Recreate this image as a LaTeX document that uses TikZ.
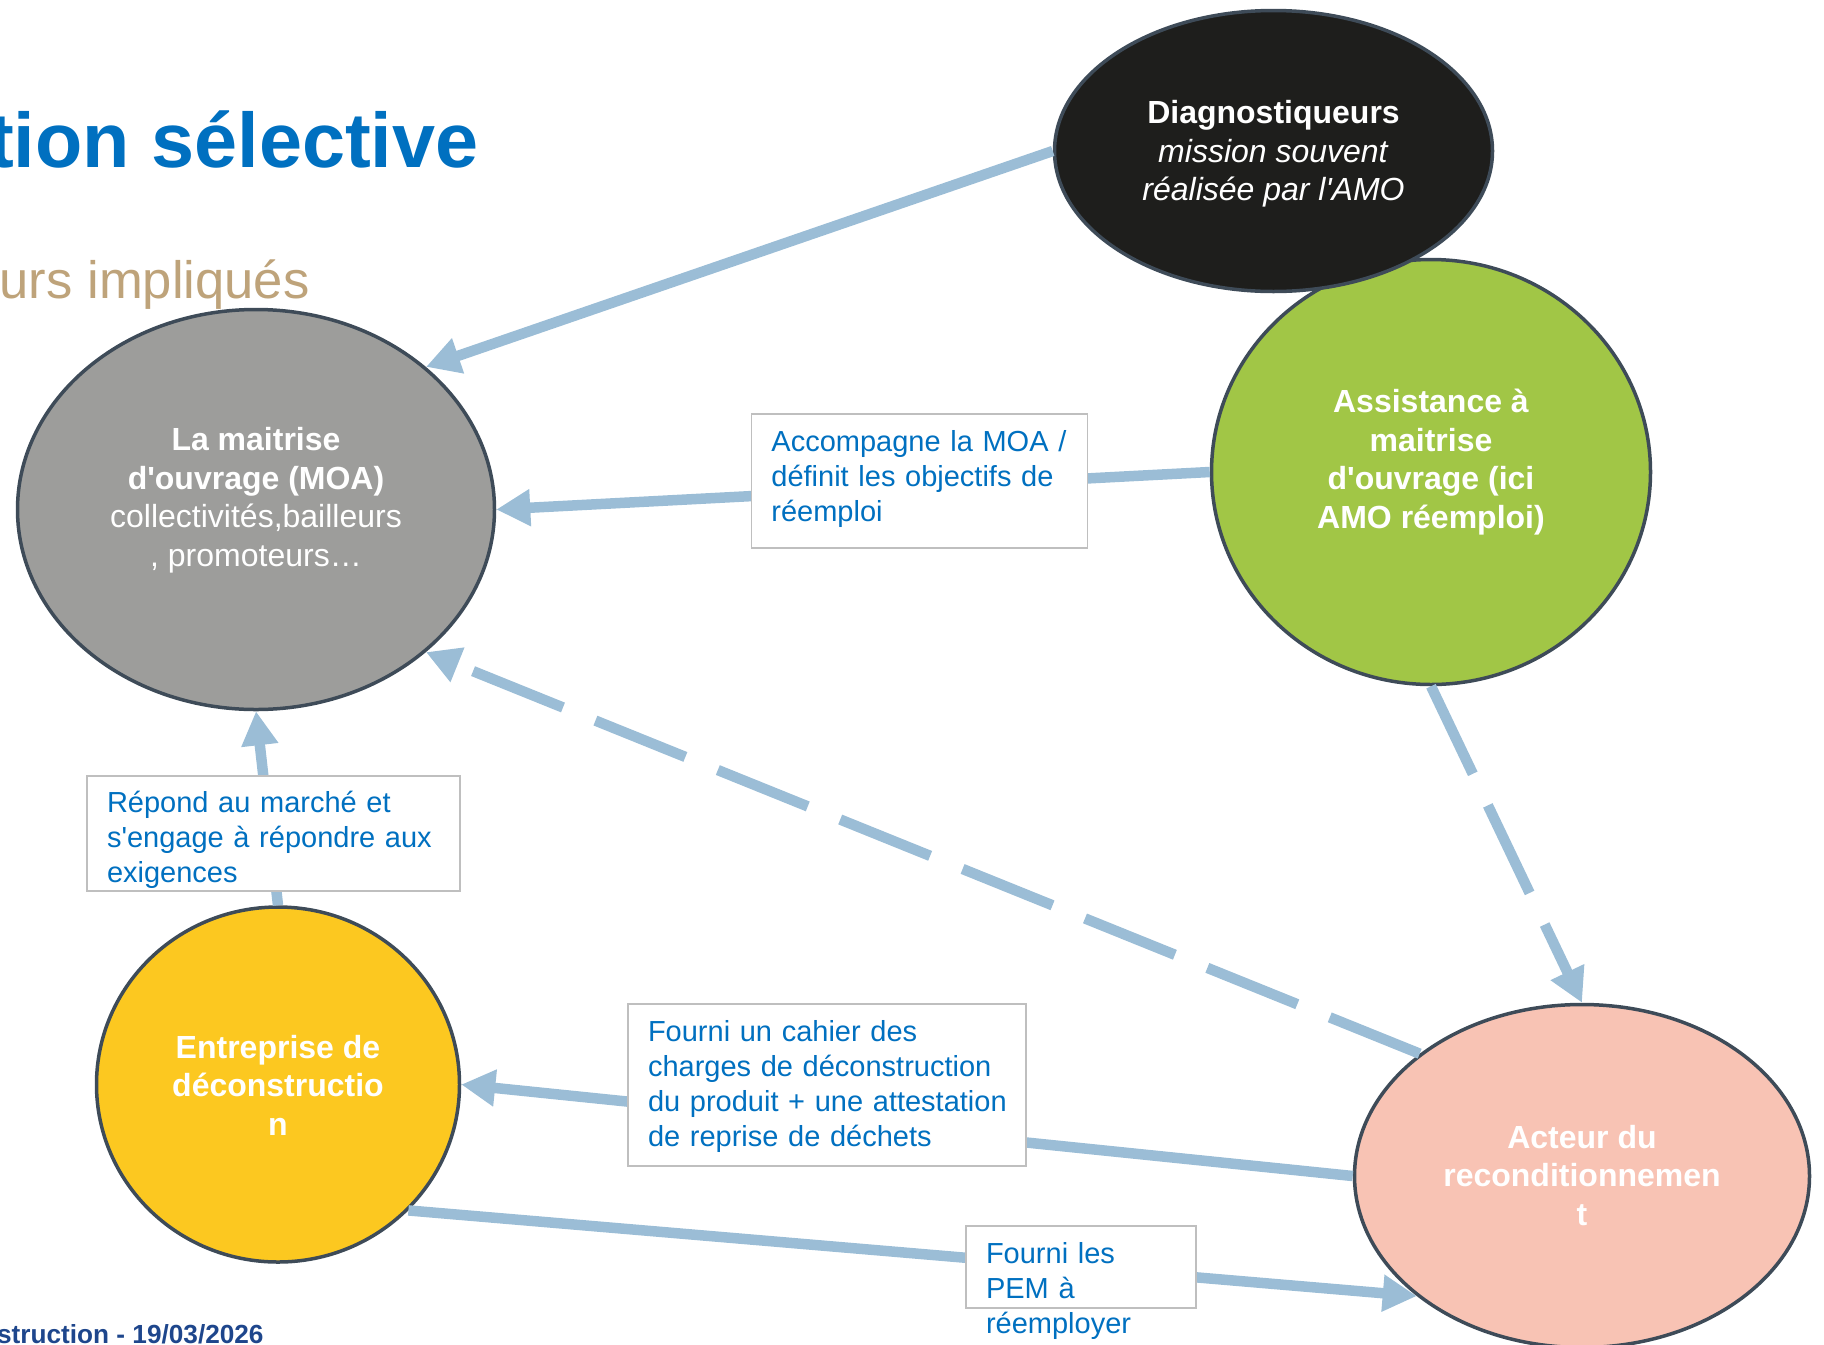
\documentclass[tikz,border=0pt]{standalone}
\usepackage{fontspec}
\setmainfont{Liberation Sans}[Ligatures=TeXOff]
\usetikzlibrary{shapes.geometric,arrows.meta}
\definecolor{flowblue}{RGB}{155,189,214}
\definecolor{rimgrey}{RGB}{62,75,88}
\definecolor{boxgrey}{RGB}{191,191,191}
\definecolor{noteblue}{RGB}{0,112,192}
\definecolor{subtan}{RGB}{190,163,122}
\definecolor{footnavy}{RGB}{30,70,140}
\definecolor{moagrey}{RGB}{157,157,155}
\definecolor{diagblack}{RGB}{30,30,28}
\definecolor{amogreen}{RGB}{161,198,70}
\definecolor{entyellow}{RGB}{252,200,32}
\definecolor{actsalmon}{RGB}{248,195,180}
\begin{document}
\begin{tikzpicture}[x=0.5pt,y=-0.5pt,
    actor/.style={ellipse, draw=rimgrey, line width=1.75pt, inner sep=0pt, text=white, align=center,
        font=\fontsize{16}{19.25}\selectfont, text depth=4pt},
    flow/.style={draw=flowblue, line width=5.25pt, -{Triangle[length=17pt,width=17.5pt]}},
    longdash/.style={dash pattern=on 48.5pt off 17.5pt},
    note/.style={draw=boxgrey, line width=0.7pt, fill=white, text=noteblue, align=left, anchor=north west,
        outer sep=0pt, inner xsep=10pt, inner ysep=0pt, font=\fontsize{14.5}{17.5}\selectfont},
    heading/.style={anchor=base east, inner sep=0pt}]

    \useasboundingbox (0,0) rectangle (1824,1344);

    % titles
    \node[heading, text=noteblue, font=\fontsize{38.7}{46}\selectfont\bfseries] (title) at (479,167) {tion sélective};
    \node[heading, text=subtan, font=\fontsize{26.3}{31}\selectfont] (subtitle) at (310,298) {urs impliqués};
    \node[heading, text=footnavy, font=\fontsize{13.1}{15}\selectfont\bfseries] (footer) at (264,1343) {struction - 19/03/2026};

    % actors
    \node[actor, fill=amogreen, minimum width=219.5pt, minimum height=212.5pt, text height=60pt] (amo) at (1431,472)
        {\textbf{Assistance à}\\\textbf{maitrise}\\\textbf{d'ouvrage (ici}\\\textbf{AMO réemploi)}};
    \node[actor, fill=diagblack, minimum width=219pt, minimum height=140.5pt, text height=53.6pt] (diag) at (1273.5,151)
        {\textbf{Diagnostiqueurs}\\\textit{mission souvent}\\\textit{réalisée par l'AMO}};
    \node[actor, fill=moagrey, minimum width=238.5pt, minimum height=200pt, text height=60.5pt] (moa) at (256,509.5)
        {\textbf{La maitrise}\\\textbf{d'ouvrage (MOA)}\\collectivités,bailleurs\\, promoteurs…};
    \node[actor, fill=entyellow, minimum width=181.5pt, minimum height=177.5pt, text height=54.5pt] (ent) at (278,1084.5)
        {\textbf{Entreprise de}\\\textbf{déconstructio}\\\textbf{n}};
    \node[actor, fill=actsalmon, minimum width=227.5pt, minimum height=171.5pt, text height=53pt] (act) at (1582,1176)
        {\textbf{Acteur du}\\\textbf{reconditionnemen}\\\textbf{t}};

    % links
    \draw[flow] (diag.west) -- (moa.40);
    \draw[flow] (amo.west) -- (moa.east);
    \draw[flow] (ent.north) -- (moa.south);
    \draw[flow] (act.west) -- (ent.east);
    \draw[flow] (ent.-44) -- (act.216);
    \draw[flow, longdash] (amo.south) -- (act.north);
    \draw[flow, longdash] (act.143) -- (moa.320);

    % link labels
    \node[note, text width=148pt, text height=18.85pt, text depth=48.15pt] (acc) at (751.4,414)
        {Accompagne la MOA /\\définit les objectifs de\\réemploi};
    \node[note, text width=166.5pt, text height=18.3pt, text depth=39.2pt] (rep) at (87,776)
        {Répond au marché et\\s'engage à répondre aux\\exigences};
    \node[note, text width=179pt, text height=18.75pt, text depth=62.25pt] (cdc) at (628,1004)
        {Fourni un cahier des\\charges de déconstruction\\\mbox{du produit + une attestation}\\de reprise de déchets};
    \node[note, text width=95pt, text height=18.65pt, text depth=22.35pt] (pem) at (966,1226)
        {Fourni les\\PEM à\\réemployer};
\end{tikzpicture}
\end{document}
